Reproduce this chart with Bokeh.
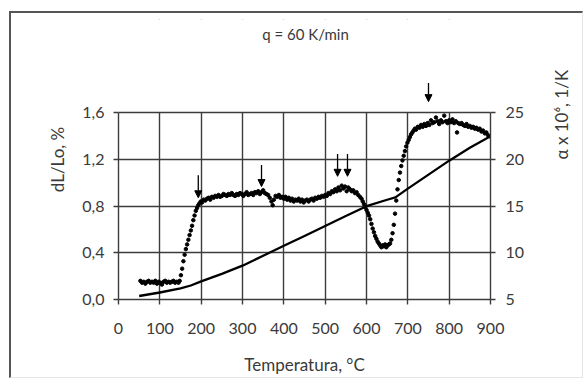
import math
from bokeh.plotting import figure
from bokeh.models import (Range1d, LinearAxis, FixedTicker, Label, Arrow, NormalHead,
                          BoxAnnotation, Grid)
from bokeh.embed import file_html
from bokeh.resources import INLINE

# ---------------- data ----------------
title_text = "q = 60 K/min"
x_label = "Temperatura, °C"
y_left_label = "dL/Lo, %"
y_right_label = "α x 10⁶, 1/K"

x_ticks = [0, 100, 200, 300, 400, 500, 600, 700, 800, 900]
left_ticks = [0.0, 0.4, 0.8, 1.2, 1.6]
left_tick_labels = ["0,0", "0,4", "0,8", "1,2", "1,6"]
right_ticks = [5, 10, 15, 20, 25]

# relative elongation dL/Lo (left axis), solid line
T_line = [50, 100, 150, 175, 200, 250, 300, 350, 400, 450, 500, 550, 600, 650, 670, 700, 750, 800, 850, 900]
dL_line = [0.03, 0.06, 0.095, 0.12, 0.155, 0.22, 0.29, 0.375, 0.46, 0.545, 0.63, 0.715, 0.80, 0.855, 0.875,
           0.95, 1.07, 1.19, 1.30, 1.40]

# thermal expansion coefficient alpha x 10^6 (right axis), dots
T_alpha = [53, 57, 61, 65, 69, 73, 77, 81, 85, 89, 93, 97, 101, 105, 109, 113, 117, 121, 125, 129, 133, 137, 141, 145, 148,
           151, 154, 157, 160, 163, 166, 169, 172, 175, 178, 181, 184, 187, 190, 193, 196, 199,
           202, 206, 210, 214, 218, 222, 226, 230, 234, 238, 242, 246, 250, 254, 258, 262, 266, 270, 274, 278,
           282, 286, 290, 294, 298, 302, 306, 310, 314, 318, 322, 326, 330, 334, 338, 342, 346, 350, 354, 358,
           362, 366, 370, 373, 376, 380, 384, 388, 392, 396, 400, 404, 408, 412, 416, 420, 424, 428, 432, 436,
           440, 444, 448, 452, 456, 460, 464, 468, 472, 476, 480, 484, 488, 492, 496, 500, 504, 508, 512, 516,
           520, 524, 528, 532, 536, 540, 544, 548, 552, 556, 560, 564, 568, 572, 576, 580, 584, 588, 591, 594,
           597, 600, 603, 606, 609, 612, 615, 618, 621, 624, 627, 630, 633, 636, 639, 642, 645, 648, 651, 654,
           657, 660, 663, 666, 669,
           672, 675, 678, 681, 684, 687, 690, 693, 696, 699, 702, 705, 708, 711, 714, 717, 720, 724, 728, 732,
           736, 740, 744, 748, 752, 756, 760, 764, 768, 772, 776, 780, 784, 788, 792, 796, 800, 804, 808, 812,
           816, 819, 822, 826, 830, 834, 838, 842, 846, 850, 854, 858, 862, 866, 870, 874, 878, 882, 886, 890,
           894, 898]
alpha = [7.0, 6.8, 6.9, 6.7, 6.9, 7.0, 6.8, 6.9, 6.8, 7.0, 6.7, 6.9, 6.8, 6.6, 6.9, 7.0, 6.8, 6.9, 6.8, 6.9, 7.0, 6.8, 6.9, 6.8, 7.0,
         7.6, 8.3, 9.1, 9.8, 10.4, 10.9, 11.4, 11.9, 12.4, 12.9, 13.5, 14.0, 14.5, 14.8, 15.1, 15.3, 15.5,
         15.4, 15.7, 15.6, 15.8, 15.9, 15.7, 16.0, 15.9, 16.1, 16.0, 16.2, 16.0, 16.1, 16.3, 16.2, 16.1, 16.3, 16.2, 16.4, 16.2,
         16.1, 16.3, 16.2, 16.4, 16.3, 16.1, 16.3, 16.5, 16.2, 16.3, 16.4, 16.2, 16.5, 16.4, 16.6, 16.3, 16.5, 16.7, 16.4, 16.3,
         16.2, 15.9, 15.5, 15.1, 15.7, 16.1, 16.0, 16.2, 15.9, 16.0, 15.8, 16.0, 15.7, 15.9, 15.6, 15.8, 15.5, 15.7, 15.6, 15.8,
         15.5, 15.7, 15.4, 15.6, 15.7, 15.5, 15.7, 15.8, 15.6, 15.9, 15.8, 16.0, 15.9, 16.1, 16.0, 16.2, 16.1, 16.4, 16.3, 16.6,
         16.5, 16.8, 16.6, 17.0, 16.7, 17.2, 16.9, 17.1, 16.6, 17.0, 16.8, 16.6, 16.7, 16.4, 16.5, 16.2, 16.0, 15.8, 15.5, 15.2,
         14.9, 14.6, 14.3, 14.0, 13.6, 13.1, 12.6, 12.2, 11.8, 11.5, 11.2, 11.0, 10.8, 10.6, 10.8, 10.7, 10.9, 10.6, 10.8, 10.9,
         11.0, 11.4, 12.1, 13.0, 14.2,
         15.6, 16.8, 17.8, 18.6, 19.3, 19.9, 20.4, 20.9, 21.4, 21.8, 22.1, 22.4, 22.7, 22.9, 23.1, 23.3, 23.2, 23.5, 23.4, 23.7,
         23.5, 23.8, 23.6, 23.9, 23.7, 24.2, 23.9, 24.0, 24.5, 24.1, 23.8, 24.2, 24.0, 24.7, 24.1, 23.9, 24.2, 24.0, 24.3, 23.9,
         24.1, 22.9, 23.9, 23.8, 23.9, 23.7, 23.6, 23.8, 23.5, 23.6, 23.4, 23.5, 23.3, 23.4, 23.2, 23.3, 23.0, 23.1, 22.8, 22.9,
         22.6, 22.5]

# transformation markers (arrows), right-axis units
arrow_T = [193, 346, 530, 554, 750]
arrow_from = [18.3, 19.4, 20.6, 20.6, 28.2]
arrow_to = [15.9, 17.1, 18.2, 18.2, 26.2]

# ---------------- figure ----------------
FONT = "Lato"
TXT = "#3a3a3a"
GRID = "#3c3c3c"

# frame is extended above the 1,6 / 25 line so the title and the top arrow can sit inside it
Y_TOP = 2.4
A_TOP = right_ticks[0] + Y_TOP * (right_ticks[-1] - right_ticks[0]) / (left_ticks[-1] - left_ticks[0])

p = figure(width=574, height=367, output_backend="svg", toolbar_location=None,
           x_range=Range1d(x_ticks[0], x_ticks[-1]), y_range=Range1d(left_ticks[0], Y_TOP),
           min_border_left=107, min_border_right=93, min_border_top=6, min_border_bottom=81)
p.extra_y_ranges = {"alpha": Range1d(right_ticks[0], A_TOP)}
p.outline_line_color = None
p.background_fill_color = "white"
p.border_fill_color = "white"
p.styles = {"margin-left": "9px", "margin-top": "11px",
            "border-left": "2px solid #555555", "border-top": "2px solid #555555",
            "border-right": "1px solid #e6e6e6", "border-bottom": "1px solid #e6e6e6"}

def style_axis(ax, standoff):
    ax.axis_line_color = GRID
    ax.axis_line_width = 1.4
    ax.major_tick_line_color = GRID
    ax.major_tick_line_width = 1.4
    ax.major_tick_in = 0
    ax.major_tick_out = 5
    ax.minor_tick_line_color = None
    ax.major_label_text_font = FONT
    ax.major_label_text_font_size = "16px"
    ax.major_label_text_color = TXT
    ax.major_label_standoff = standoff
    ax.axis_label_text_font = FONT
    ax.axis_label_text_font_size = "17px"
    ax.axis_label_text_font_style = "normal"
    ax.axis_label_text_color = TXT

xa = p.xaxis[0]
xa.ticker = FixedTicker(ticks=x_ticks)
xa.axis_label = x_label
style_axis(xa, 18)
xa.axis_label_standoff = 17

ya = p.yaxis[0]
ya.ticker = FixedTicker(ticks=left_ticks)
ya.bounds = (left_ticks[0], left_ticks[-1])
ya.major_label_overrides = {t: s for t, s in zip(left_ticks, left_tick_labels)}
ya.axis_label = y_left_label
style_axis(ya, 9)
ya.axis_label_standoff = 11

ra = LinearAxis(y_range_name="alpha", ticker=FixedTicker(ticks=right_ticks),
                bounds=(right_ticks[0], right_ticks[-1]), axis_label=y_right_label)
style_axis(ra, 10)
ra.axis_label_standoff = 34
try:
    ra.axis_label_orientation = math.pi / 2
except Exception:
    ra.axis_label_orientation = "vertical"
p.add_layout(ra, "right")

p.xgrid.ticker = xa.ticker
p.xgrid[0].grid_line_color = GRID
p.xgrid[0].grid_line_width = 1.4
p.ygrid[0].visible = False

# white mask over the vertical grid lines above the top gridline
p.add_layout(BoxAnnotation(bottom=left_ticks[-1], fill_color="white", fill_alpha=1.0,
                           line_color=None, level="underlay"))
yg = Grid(dimension=1, ticker=ya.ticker, grid_line_color=GRID, grid_line_width=1.4)
p.add_layout(yg)

# curves
p.line(T_line, dL_line, line_color="black", line_width=2.3)
p.scatter(T_alpha, alpha, y_range_name="alpha", size=3.5, marker="circle",
          fill_color="black", line_color="black")

# arrows
for t, a0, a1 in zip(arrow_T, arrow_from, arrow_to):
    p.add_layout(Arrow(x_start=t, y_start=a0, x_end=t, y_end=a1, y_range_name="alpha",
                       line_color="black", line_width=1.3,
                       end=NormalHead(size=7, fill_color="black", line_color="black", line_width=1)))

# title (inside the extended frame, screen units from the frame's bottom-left)
p.add_layout(Label(x=187, y=266, x_units="screen", y_units="screen", text=title_text,
                   text_align="center", text_baseline="middle", text_font=FONT,
                   text_font_size="15px", text_color=TXT))

open("out.html", "w").write(file_html(p, INLINE))
